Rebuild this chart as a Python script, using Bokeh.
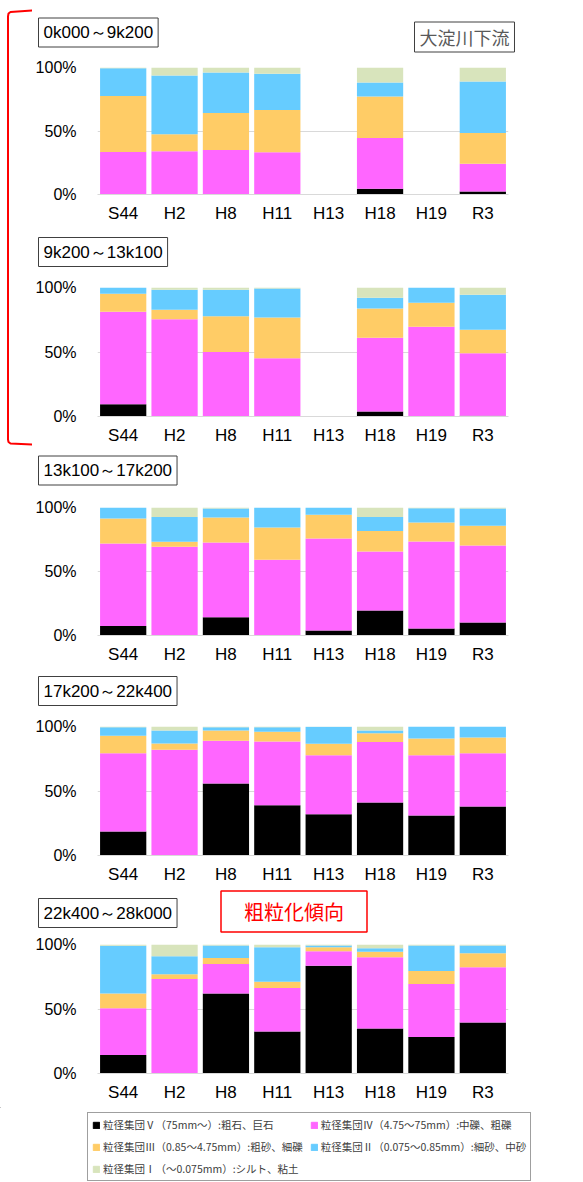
from bokeh.plotting import figure
from bokeh.layouts import column, row
from bokeh.models import (ColumnDataSource, FactorRange, Range1d, FixedTicker,
                          PrintfTickFormatter, Label, Legend, LegendItem)
from bokeh.embed import file_html
from bokeh.resources import INLINE

# Survey years (x categories)
years = ["S44", "H2", "H8", "H11", "H13", "H18", "H19", "R3"]

# Grain-size groups, coarsest first (stacking order from the bottom)
groups = ["g5", "g4", "g3", "g2", "g1"]
group_colors = ["#000000", "#FF66FF", "#FFCC66", "#66CCFF", "#D8E4BC"]
group_labels = [
    "粒径集団Ⅴ（75mm～）:粗石、巨石",
    "粒径集団Ⅳ（4.75～75mm）:中礫、粗礫",
    "粒径集団Ⅲ（0.85～4.75mm）:粗砂、細礫",
    "粒径集団Ⅱ（0.075～0.85mm）:細砂、中砂",
    "粒径集団Ⅰ（～0.075mm）:シルト、粘土",
]

# Composition (%) per section; H13/H19 not surveyed where all zero
sec1_name = "0k000～9k200"
sec1_g5 = [0.0, 0.0, 0.0, 0.0, 0.0, 4.5, 0.0, 2.4]
sec1_g4 = [33.5, 34.0, 35.0, 33.2, 0.0, 40.0, 0.0, 21.8]
sec1_g3 = [44.0, 13.4, 29.2, 33.4, 0.0, 32.6, 0.0, 24.2]
sec1_g2 = [22.0, 46.3, 31.8, 28.4, 0.0, 11.1, 0.0, 40.6]
sec1_g1 = [0.5, 6.3, 4.0, 5.0, 0.0, 11.8, 0.0, 11.0]

sec2_name = "9k200～13k100"
sec2_g5 = [9.5, 0.0, 0.0, 0.0, 0.0, 3.9, 0.0, 0.5]
sec2_g4 = [71.7, 75.3, 50.0, 45.1, 0.0, 57.2, 69.6, 48.5]
sec2_g3 = [13.9, 7.4, 27.8, 31.7, 0.0, 22.7, 18.5, 18.3]
sec2_g2 = [4.9, 15.5, 20.4, 22.4, 0.0, 8.2, 11.9, 27.0]
sec2_g1 = [0.0, 1.8, 1.8, 0.8, 0.0, 8.0, 0.0, 5.7]

sec3_name = "13k100～17k200"
sec3_g5 = [7.5, 0.0, 14.3, 0.0, 3.9, 19.5, 5.5, 10.1]
sec3_g4 = [64.4, 69.4, 58.4, 59.2, 71.9, 46.2, 68.0, 60.3]
sec3_g3 = [19.5, 3.8, 19.5, 25.2, 18.5, 15.9, 14.8, 15.3]
sec3_g2 = [8.6, 19.3, 7.0, 15.6, 5.7, 10.9, 11.2, 13.5]
sec3_g1 = [0.0, 7.5, 0.8, 0.0, 0.0, 7.5, 0.5, 0.8]

sec4_name = "17k200～22k400"
sec4_g5 = [18.6, 0.0, 55.8, 39.0, 32.0, 41.1, 31.0, 38.0]
sec4_g4 = [60.7, 81.9, 33.1, 49.4, 45.8, 46.8, 46.8, 41.3]
sec4_g3 = [13.5, 4.9, 8.0, 7.5, 8.8, 6.9, 12.9, 12.2]
sec4_g2 = [6.7, 10.1, 2.6, 3.6, 13.2, 2.1, 9.3, 8.5]
sec4_g1 = [0.5, 3.1, 0.5, 0.5, 0.2, 3.1, 0.0, 0.0]

sec5_name = "22k400～28k000"
sec5_g5 = [14.3, 0.0, 62.1, 32.5, 83.6, 34.8, 28.3, 39.5]
sec5_g4 = [36.3, 73.2, 22.8, 33.7, 11.2, 55.3, 41.1, 42.8]
sec5_g3 = [11.5, 3.7, 4.7, 5.0, 3.1, 4.2, 10.1, 10.9]
sec5_g2 = [36.9, 14.0, 9.6, 26.7, 1.3, 2.8, 19.7, 6.0]
sec5_g1 = [1.0, 9.1, 0.8, 2.1, 0.8, 2.9, 0.8, 0.8]

AXIS_FONT = "Liberation Sans"
JP_FONT = "Noto Sans CJK JP"
GRID = "#D9D9D9"
BRACKET_W = 32
FRAME_LEFT = 97


def bare_figure(width, height):
    """A figure whose frame fills the canvas, with pixel-like ranges."""
    f = figure(width=width, height=height, x_range=Range1d(0, width),
               y_range=Range1d(height, 0), x_axis_type=None,
               y_axis_type=None, min_border=0, title=None,
               output_backend="svg", toolbar_location=None)
    f.outline_line_color = None
    f.xgrid.grid_line_color = None
    f.ygrid.grid_line_color = None
    f.background_fill_color = "white"
    return f


def box_label(x, y, text, font, size, color, border, align="left",
              padding=5, border_width=1):
    return Label(x=x, y=y, text=text, text_font=font, text_font_size=size,
                 text_color=color, text_align=align, text_baseline="middle",
                 padding=padding, background_fill_color="white",
                 border_line_color=border, border_line_width=border_width)


def header(width, height, name, name_x, name_y):
    h = bare_figure(width, height)
    h.add_layout(box_label(name_x, name_y, name, AXIS_FONT, "17px",
                           "#000000", "#404040"))
    return h


def make_panel(g5, g4, g3, g2, g1, border_left, border_top, frame_height):
    src = ColumnDataSource(dict(year=years, g5=g5, g4=g4, g3=g3, g2=g2, g1=g1))
    p = figure(x_range=FactorRange(*years, range_padding=0),
               y_range=Range1d(0, 100), title=None,
               frame_width=411, frame_height=frame_height,
               min_border_left=border_left, min_border_right=75,
               min_border_top=border_top, min_border_bottom=34,
               output_backend="svg", toolbar_location=None)
    p.vbar_stack(groups, x="year", width=0.9, color=group_colors,
                 line_color=None, source=src)

    p.outline_line_color = None
    p.background_fill_color = "white"
    p.xgrid.grid_line_color = None
    p.ygrid.grid_line_color = GRID
    p.ygrid.level = "underlay"

    p.xaxis.axis_line_color = GRID
    p.xaxis.major_tick_line_color = None
    p.xaxis.minor_tick_line_color = None
    p.xaxis.major_tick_out = 0
    p.xaxis.major_tick_in = 0
    p.xaxis.major_label_text_font = AXIS_FONT
    p.xaxis.major_label_text_font_size = "17px"
    p.xaxis.major_label_text_color = "#000000"
    p.xaxis.major_label_standoff = 9

    p.yaxis.axis_line_color = None
    p.yaxis.major_tick_line_color = None
    p.yaxis.minor_tick_line_color = None
    p.yaxis.major_tick_out = 0
    p.yaxis.major_tick_in = 0
    p.yaxis.ticker = FixedTicker(ticks=[0, 50, 100])
    p.yaxis.formatter = PrintfTickFormatter(format="%d%%")
    p.yaxis.major_label_text_font = AXIS_FONT
    p.yaxis.major_label_text_font_size = "16px"
    p.yaxis.major_label_text_color = "#000000"
    p.yaxis.major_label_standoff = 21
    return p


# --- downstream block (with bracket) ---
inner_w = 583 - BRACKET_W
h1 = header(inner_w, 53, sec1_name, 38 - BRACKET_W, 32)
h1.add_layout(box_label(414 - BRACKET_W, 36.5, "大淀川下流", JP_FONT, "18px",
                        "#595959", "#404040", padding=(5, 2)))
p1 = make_panel(sec1_g5, sec1_g4, sec1_g3, sec1_g2, sec1_g1,
                FRAME_LEFT - BRACKET_W, 14, 127)
h2 = header(inner_w, 45, sec2_name, 38 - BRACKET_W, 23.5)
p2 = make_panel(sec2_g5, sec2_g4, sec2_g3, sec2_g2, sec2_g1,
                FRAME_LEFT - BRACKET_W, 14, 129)

bracket = bare_figure(BRACKET_W, 450)
bracket.line(x=[32, 10, 8, 7.5, 7.5, 8, 10, 32],
             y=[10, 11.5, 13, 16, 439, 441.5, 443, 444],
             line_color="#FF0000", line_width=2)

# --- remaining sections ---
h3 = header(583, 43, sec3_name, 38, 20)
p3 = make_panel(sec3_g5, sec3_g4, sec3_g3, sec3_g2, sec3_g1,
                FRAME_LEFT, 14, 128)
h4 = header(583, 43, sec4_name, 38, 21.5)
p4 = make_panel(sec4_g5, sec4_g4, sec4_g3, sec4_g2, sec4_g1,
                FRAME_LEFT, 14, 129)
h5 = header(583, 44, sec5_name, 38, 23.5)
h5.add_layout(box_label(293.5, 22, "粗粒化傾向", JP_FONT, "20px",
                        "#FF0000", "#FF0000", align="center",
                        padding=(23, 6), border_width=1.5))
p5 = make_panel(sec5_g5, sec5_g4, sec5_g3, sec5_g2, sec5_g1,
                FRAME_LEFT, 11, 129)

# --- legend strip (swatch renderers sit outside the visible range) ---
lf = bare_figure(583, 75)
items = []
for c, lab in zip(group_colors, group_labels):
    r = lf.vbar(x=[-100], top=[0], bottom=[0], width=1, color=c)
    items.append(LegendItem(label=lab, renderers=[r]))
legend = Legend(items=items, location=(87, 1), orientation="horizontal",
                ncols=2, glyph_width=8, glyph_height=8, label_height=13,
                label_standoff=3, spacing=7, padding=4, margin=0,
                label_text_font=JP_FONT, label_text_font_size="10.5px",
                label_text_color="#404040", border_line_color="#404040",
                border_line_width=1, background_fill_color="white")
lf.add_layout(legend)

layout = column(
    row(bracket, column(row(h1), p1, row(h2), p2)),
    row(h3), p3, row(h4), p4, row(h5), p5, row(lf),
)

with open("out.html", "w") as f:
    f.write(file_html(layout, INLINE))
